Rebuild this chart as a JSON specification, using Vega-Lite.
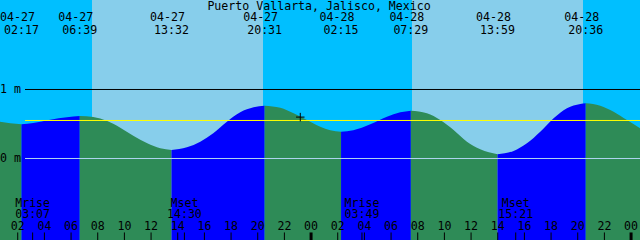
{
  "$schema": "https://vega.github.io/schema/vega-lite/v6.json",
  "width": 640,
  "height": 240,
  "autosize": {"type": "none"},
  "padding": 0,
  "background": "#00bfff",
  "config": {
    "view": {"stroke": null},
    "text": {"font": "DejaVu Sans Mono", "fontSize": 11.6, "color": "#000000", "baseline": "alphabetic"}
  },
  "datasets": {
    "sun": [
      {"t1": 0.67, "t2": 7.57, "p": "night"},
      {"t1": 7.57, "t2": 20.4, "p": "day"},
      {"t1": 20.4, "t2": 31.57, "p": "night"},
      {"t1": 31.57, "t2": 44.4, "p": "day"},
      {"t1": 44.4, "t2": 48.67, "p": "night"}
    ],
    "tide": [
      {"t": 0.67, "h": 0.533, "seg": "f0", "dir": "fall"},
      {"t": 1.44, "h": 0.51, "seg": "f0", "dir": "fall"},
      {"t": 2.283, "h": 0.496, "seg": "f0", "dir": "fall"},
      {"t": 2.283, "h": 0.496, "seg": "r1", "dir": "rise"},
      {"t": 3.165, "h": 0.514, "seg": "r1", "dir": "rise"},
      {"t": 4.44, "h": 0.562, "seg": "r1", "dir": "rise"},
      {"t": 5.69, "h": 0.597, "seg": "r1", "dir": "rise"},
      {"t": 6.65, "h": 0.616, "seg": "r1", "dir": "rise"},
      {"t": 6.65, "h": 0.616, "seg": "f1", "dir": "fall"},
      {"t": 7.665, "h": 0.601, "seg": "f1", "dir": "fall"},
      {"t": 8.715, "h": 0.543, "seg": "f1", "dir": "fall"},
      {"t": 9.69, "h": 0.446, "seg": "f1", "dir": "fall"},
      {"t": 10.665, "h": 0.33, "seg": "f1", "dir": "fall"},
      {"t": 11.715, "h": 0.22, "seg": "f1", "dir": "fall"},
      {"t": 12.69, "h": 0.148, "seg": "f1", "dir": "fall"},
      {"t": 13.533, "h": 0.123, "seg": "f1", "dir": "fall"},
      {"t": 13.533, "h": 0.123, "seg": "r2", "dir": "rise"},
      {"t": 14.69, "h": 0.162, "seg": "r2", "dir": "rise"},
      {"t": 15.69, "h": 0.243, "seg": "r2", "dir": "rise"},
      {"t": 16.665, "h": 0.365, "seg": "r2", "dir": "rise"},
      {"t": 17.69, "h": 0.533, "seg": "r2", "dir": "rise"},
      {"t": 18.69, "h": 0.67, "seg": "r2", "dir": "rise"},
      {"t": 19.69, "h": 0.742, "seg": "r2", "dir": "rise"},
      {"t": 20.517, "h": 0.765, "seg": "r2", "dir": "rise"},
      {"t": 20.517, "h": 0.765, "seg": "f2", "dir": "fall"},
      {"t": 21.69, "h": 0.736, "seg": "f2", "dir": "fall"},
      {"t": 22.69, "h": 0.655, "seg": "f2", "dir": "fall"},
      {"t": 23.69, "h": 0.558, "seg": "f2", "dir": "fall"},
      {"t": 24.69, "h": 0.461, "seg": "f2", "dir": "fall"},
      {"t": 25.44, "h": 0.409, "seg": "f2", "dir": "fall"},
      {"t": 26.25, "h": 0.388, "seg": "f2", "dir": "fall"},
      {"t": 26.25, "h": 0.388, "seg": "r3", "dir": "rise"},
      {"t": 27.165, "h": 0.409, "seg": "r3", "dir": "rise"},
      {"t": 28.44, "h": 0.496, "seg": "r3", "dir": "rise"},
      {"t": 29.69, "h": 0.606, "seg": "r3", "dir": "rise"},
      {"t": 30.69, "h": 0.67, "seg": "r3", "dir": "rise"},
      {"t": 31.483, "h": 0.693, "seg": "r3", "dir": "rise"},
      {"t": 31.483, "h": 0.693, "seg": "f3", "dir": "fall"},
      {"t": 32.69, "h": 0.655, "seg": "f3", "dir": "fall"},
      {"t": 33.69, "h": 0.558, "seg": "f3", "dir": "fall"},
      {"t": 34.69, "h": 0.413, "seg": "f3", "dir": "fall"},
      {"t": 35.69, "h": 0.243, "seg": "f3", "dir": "fall"},
      {"t": 36.69, "h": 0.133, "seg": "f3", "dir": "fall"},
      {"t": 37.983, "h": 0.061, "seg": "f3", "dir": "fall"},
      {"t": 37.983, "h": 0.061, "seg": "r4", "dir": "rise"},
      {"t": 39.19, "h": 0.109, "seg": "r4", "dir": "rise"},
      {"t": 40.19, "h": 0.22, "seg": "r4", "dir": "rise"},
      {"t": 41.19, "h": 0.388, "seg": "r4", "dir": "rise"},
      {"t": 42.19, "h": 0.583, "seg": "r4", "dir": "rise"},
      {"t": 43.19, "h": 0.728, "seg": "r4", "dir": "rise"},
      {"t": 44.19, "h": 0.79, "seg": "r4", "dir": "rise"},
      {"t": 44.6, "h": 0.8, "seg": "r4", "dir": "rise"},
      {"t": 44.6, "h": 0.8, "seg": "f4", "dir": "fall"},
      {"t": 45.69, "h": 0.765, "seg": "f4", "dir": "fall"},
      {"t": 46.69, "h": 0.678, "seg": "f4", "dir": "fall"},
      {"t": 47.69, "h": 0.558, "seg": "f4", "dir": "fall"},
      {"t": 48.67, "h": 0.44, "seg": "f4", "dir": "fall"}
    ],
    "events": [
      {"t": 2.283, "date": "04-27", "time": "02:17"},
      {"t": 6.65, "date": "04-27", "time": "06:39"},
      {"t": 13.533, "date": "04-27", "time": "13:32"},
      {"t": 20.517, "date": "04-27", "time": "20:31"},
      {"t": 26.25, "date": "04-28", "time": "02:15"},
      {"t": 31.483, "date": "04-28", "time": "07:29"},
      {"t": 37.983, "date": "04-28", "time": "13:59"},
      {"t": 44.6, "date": "04-28", "time": "20:36"}
    ],
    "hours": [
      {"t": 2, "lab": "02"}, {"t": 4, "lab": "04"}, {"t": 6, "lab": "06"}, {"t": 8, "lab": "08"},
      {"t": 10, "lab": "10"}, {"t": 12, "lab": "12"}, {"t": 14, "lab": "14"}, {"t": 16, "lab": "16"},
      {"t": 18, "lab": "18"}, {"t": 20, "lab": "20"}, {"t": 22, "lab": "22"}, {"t": 24, "lab": "00"},
      {"t": 26, "lab": "02"}, {"t": 28, "lab": "04"}, {"t": 30, "lab": "06"}, {"t": 32, "lab": "08"},
      {"t": 34, "lab": "10"}, {"t": 36, "lab": "12"}, {"t": 38, "lab": "14"}, {"t": 40, "lab": "16"},
      {"t": 42, "lab": "18"}, {"t": 44, "lab": "20"}, {"t": 46, "lab": "22"}, {"t": 48, "lab": "00"}
    ],
    "moon": [
      {"t": 3.117, "ev": "Mrise", "time": "03:07"},
      {"t": 14.5, "ev": "Mset", "time": "14:30"},
      {"t": 27.817, "ev": "Mrise", "time": "03:49"},
      {"t": 39.35, "ev": "Mset", "time": "15:21"}
    ],
    "levels": [
      {"name": "1m", "h": 1, "lab": "1 m"},
      {"name": "msl", "h": 0.551, "lab": ""},
      {"name": "0m", "h": 0, "lab": "0 m"}
    ],
    "now": [{"t": 23.19, "h": 0.6}],
    "place": [{"name": "Puerto Vallarta, Jalisco, Mexico"}]
  },
  "layer": [
    {
      "data": {"name": "sun"},
      "mark": {"type": "rect"},
      "encoding": {
        "x": {"field": "t1", "type": "quantitative", "scale": {"domain": [0.67, 48.67], "nice": false, "zero": false}, "axis": null},
        "x2": {"field": "t2"},
        "y": {"datum": 2.2971, "type": "quantitative", "scale": {"domain": [-1.1812, 2.2971], "nice": false, "zero": false}, "axis": null},
        "y2": {"datum": -1.1812},
        "color": {"field": "p", "type": "nominal", "legend": null,
          "scale": {"domain": ["day", "night", "rise", "fall", "1m", "msl", "0m"], "range": ["#87ceeb", "#00bfff", "#0000ff", "#2e8b57", "#000000", "#ffff00", "#b0d4f0"]}}
      }
    },
    {
      "data": {"name": "tide"},
      "mark": {"type": "area", "interpolate": "monotone", "opacity": 1},
      "encoding": {
        "x": {"field": "t", "type": "quantitative", "scale": {"domain": [0.67, 48.67], "nice": false, "zero": false}, "axis": null},
        "y": {"field": "h", "type": "quantitative", "stack": null, "scale": {"domain": [-1.1812, 2.2971], "nice": false, "zero": false}, "axis": null},
        "y2": {"datum": -1.1812},
        "color": {"field": "dir", "type": "nominal", "legend": null,
          "scale": {"domain": ["day", "night", "rise", "fall", "1m", "msl", "0m"], "range": ["#87ceeb", "#00bfff", "#0000ff", "#2e8b57", "#000000", "#ffff00", "#b0d4f0"]}},
        "detail": {"field": "seg", "type": "nominal"}
      }
    },
    {
      "data": {"name": "levels"},
      "mark": {"type": "rule", "strokeWidth": 1},
      "encoding": {
        "x": {"datum": 2.545, "type": "quantitative", "scale": {"domain": [0.67, 48.67], "nice": false, "zero": false}, "axis": null},
        "x2": {"datum": 48.67},
        "y": {"field": "h", "type": "quantitative", "scale": {"domain": [-1.1812, 2.2971], "nice": false, "zero": false}, "axis": null},
        "color": {"field": "name", "type": "nominal", "legend": null,
          "scale": {"domain": ["day", "night", "rise", "fall", "1m", "msl", "0m"], "range": ["#87ceeb", "#00bfff", "#0000ff", "#2e8b57", "#000000", "#ffff00", "#b0d4f0"]}}
      }
    },
    {
      "data": {"name": "levels"},
      "transform": [{"filter": "datum.lab != ''"}],
      "mark": {"type": "text", "align": "left", "dy": 4},
      "encoding": {
        "x": {"datum": 0.67, "type": "quantitative", "scale": {"domain": [0.67, 48.67], "nice": false, "zero": false}, "axis": null},
        "y": {"field": "h", "type": "quantitative", "scale": {"domain": [-1.1812, 2.2971], "nice": false, "zero": false}, "axis": null},
        "text": {"field": "lab"}
      }
    },
    {
      "data": {"name": "hours"},
      "mark": {"type": "rule", "color": "#000000"},
      "encoding": {
        "x": {"field": "t", "type": "quantitative", "scale": {"domain": [0.67, 48.67], "nice": false, "zero": false}, "axis": null},
        "y": {"datum": -1.072, "type": "quantitative", "scale": {"domain": [-1.1812, 2.2971], "nice": false, "zero": false}, "axis": null},
        "y2": {"datum": -1.1812},
        "strokeWidth": {"condition": {"test": "datum.lab == '00'", "value": 3}, "value": 1}
      }
    },
    {
      "data": {"name": "moon"},
      "mark": {"type": "rule", "color": "#000000", "strokeWidth": 1},
      "encoding": {
        "x": {"field": "t", "type": "quantitative", "scale": {"domain": [0.67, 48.67], "nice": false, "zero": false}, "axis": null},
        "y": {"datum": -1.072, "type": "quantitative", "scale": {"domain": [-1.1812, 2.2971], "nice": false, "zero": false}, "axis": null},
        "y2": {"datum": -1.1812}
      }
    },
    {
      "data": {"name": "hours"},
      "mark": {"type": "text", "align": "center"},
      "encoding": {
        "x": {"field": "t", "type": "quantitative", "scale": {"domain": [0.67, 48.67], "nice": false, "zero": false}, "axis": null},
        "y": {"datum": -1.036, "type": "quantitative", "scale": {"domain": [-1.1812, 2.2971], "nice": false, "zero": false}, "axis": null},
        "text": {"field": "lab"}
      }
    },
    {
      "data": {"name": "moon"},
      "mark": {"type": "text", "align": "center"},
      "encoding": {
        "x": {"field": "t", "type": "quantitative", "scale": {"domain": [0.67, 48.67], "nice": false, "zero": false}, "axis": null},
        "y": {"datum": -0.703, "type": "quantitative", "scale": {"domain": [-1.1812, 2.2971], "nice": false, "zero": false}, "axis": null},
        "text": {"field": "ev"}
      }
    },
    {
      "data": {"name": "moon"},
      "mark": {"type": "text", "align": "center"},
      "encoding": {
        "x": {"field": "t", "type": "quantitative", "scale": {"domain": [0.67, 48.67], "nice": false, "zero": false}, "axis": null},
        "y": {"datum": -0.862, "type": "quantitative", "scale": {"domain": [-1.1812, 2.2971], "nice": false, "zero": false}, "axis": null},
        "text": {"field": "time"}
      }
    },
    {
      "data": {"name": "events"},
      "mark": {"type": "text", "align": "center", "dx": -4},
      "encoding": {
        "x": {"field": "t", "type": "quantitative", "scale": {"domain": [0.67, 48.67], "nice": false, "zero": false}, "axis": null},
        "y": {"datum": 1.993, "type": "quantitative", "scale": {"domain": [-1.1812, 2.2971], "nice": false, "zero": false}, "axis": null},
        "text": {"field": "date"}
      }
    },
    {
      "data": {"name": "events"},
      "mark": {"type": "text", "align": "center"},
      "encoding": {
        "x": {"field": "t", "type": "quantitative", "scale": {"domain": [0.67, 48.67], "nice": false, "zero": false}, "axis": null},
        "y": {"datum": 1.804, "type": "quantitative", "scale": {"domain": [-1.1812, 2.2971], "nice": false, "zero": false}, "axis": null},
        "text": {"field": "time"}
      }
    },
    {
      "data": {"name": "place"},
      "mark": {"type": "text", "align": "center"},
      "encoding": {
        "x": {"datum": 24.6, "type": "quantitative", "scale": {"domain": [0.67, 48.67], "nice": false, "zero": false}, "axis": null},
        "y": {"datum": 2.152, "type": "quantitative", "scale": {"domain": [-1.1812, 2.2971], "nice": false, "zero": false}, "axis": null},
        "text": {"field": "name"}
      }
    },
    {
      "data": {"name": "now"},
      "mark": {"type": "point", "shape": "M-1,0H1M0,-1V1", "size": 72, "filled": false, "color": "#000000", "strokeWidth": 1, "opacity": 1},
      "encoding": {
        "x": {"field": "t", "type": "quantitative", "scale": {"domain": [0.67, 48.67], "nice": false, "zero": false}, "axis": null},
        "y": {"field": "h", "type": "quantitative", "scale": {"domain": [-1.1812, 2.2971], "nice": false, "zero": false}, "axis": null}
      }
    }
  ]
}
